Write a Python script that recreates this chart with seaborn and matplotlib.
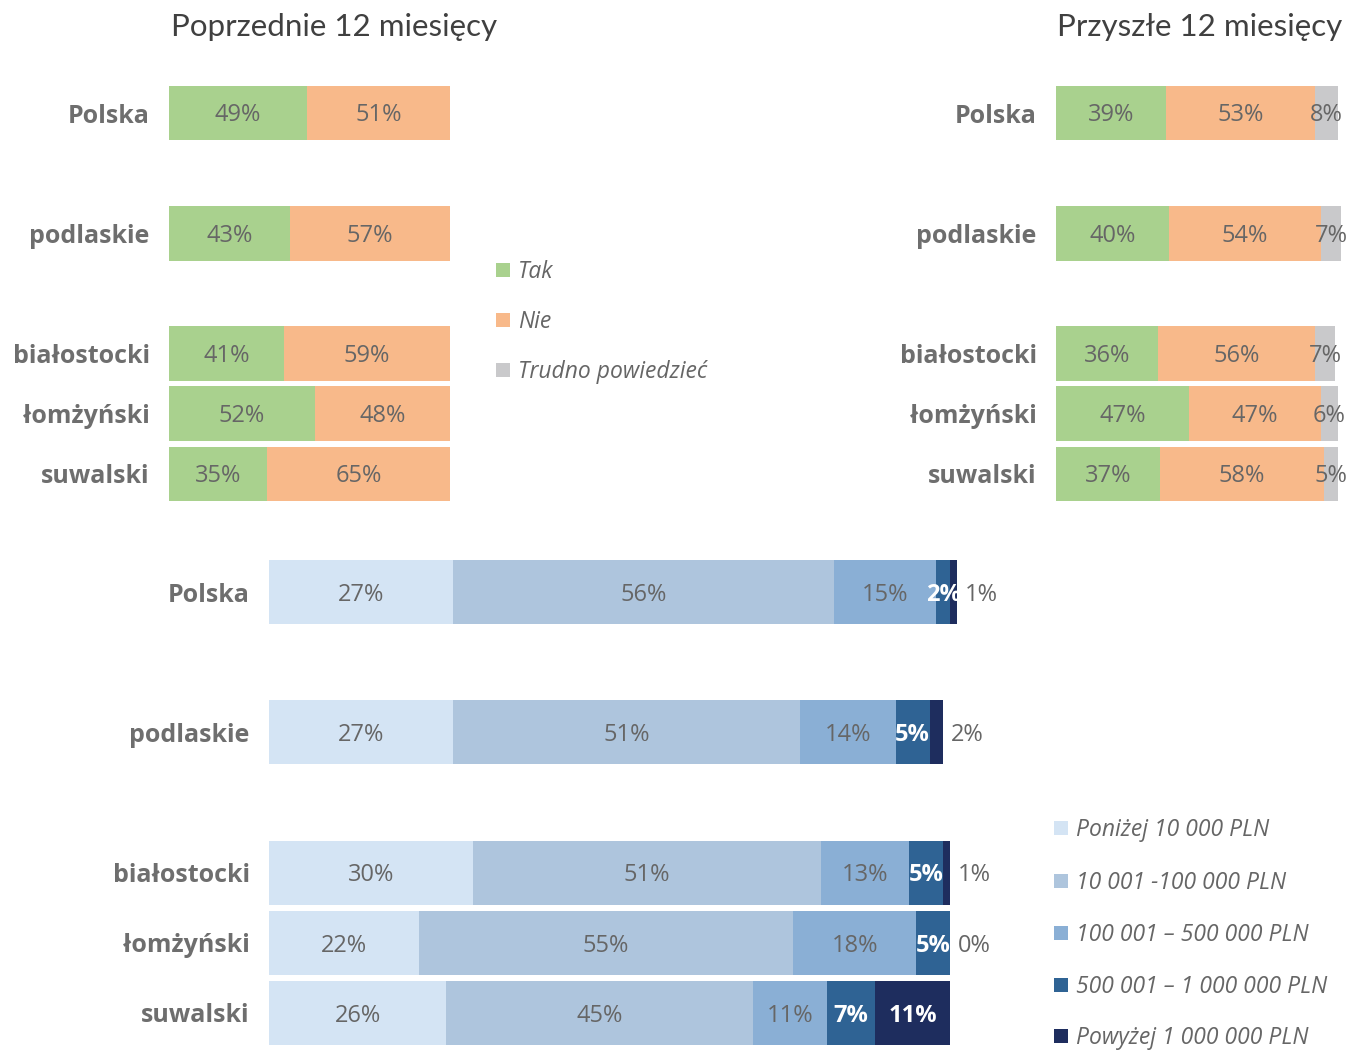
import matplotlib
matplotlib.use("Agg")
import matplotlib.pyplot as plt
from matplotlib.patches import Rectangle
import numpy as np
import pandas as pd
import seaborn as sns

# ---- data -------------------------------------------------------------
regions = ["Polska", "podlaskie", "białostocki", "łomżyński", "suwalski"]
row_pos = [0, 2, 4, 5, 6]

prev_labels = ["Tak", "Nie"]
prev_tak = [49, 43, 41, 52, 35]
prev_nie = [51, 57, 59, 48, 65]

next_labels = ["Tak", "Nie", "Trudno powiedzieć"]
next_tak = [39, 40, 36, 47, 37]
next_nie = [53, 54, 56, 47, 58]
next_trudno = [8, 7, 7, 6, 5]

value_labels = ["Poniżej 10 000 PLN", "10 001 -100 000 PLN",
                "100 001 – 500 000 PLN", "500 001 – 1 000 000 PLN",
                "Powyżej 1 000 000 PLN"]
val_below_10k = [27, 27, 30, 22, 26]
val_10k_100k = [56, 51, 51, 55, 45]
val_100k_500k = [15, 14, 13, 18, 11]
val_500k_1m = [2, 5, 5, 5, 7]
val_above_1m = [1, 2, 1, 0, 11]

# ---- style ------------------------------------------------------------
sns.set_theme(style="white")
plt.rcParams["font.family"] = ["Open Sans", "DejaVu Sans"]

GREEN, ORANGE, GREY = "#A9D18E", "#F8B98A", "#C9C9CB"
BLUES = ["#D4E4F4", "#AEC5DD", "#8AAFD5", "#2F6394", "#1E2D5E"]
TXT = "#666666"
CAT = "#6E6E6E"

W, H = 1347, 1051
fig = plt.figure(figsize=(W / 100, H / 100), dpi=100)
fig.patch.set_facecolor("white")


def px_axes(left, top, right, bottom):
    return fig.add_axes([left / W, 1 - bottom / H, (right - left) / W, (bottom - top) / H])


def stacked(ax, series, colors, width):
    arr = np.array(series, dtype=float)
    cum = np.cumsum(arr, axis=0)
    # draw cumulative totals from the longest down so each segment shows
    for i in range(len(series) - 1, -1, -1):
        df = pd.DataFrame({"pos": row_pos, "end": cum[i]})
        sns.barplot(data=df, x="end", y="pos", orient="y", native_scale=True,
                    color=colors[i], saturation=1, width=width, linewidth=0,
                    errorbar=None, ax=ax)
    for patch in ax.patches:
        patch.set_clip_on(False)
    ax.set_xlim(0, 100)
    ax.set_ylim(6.5, -0.5)
    ax.set_yticks(row_pos)
    ax.set_yticklabels(regions, fontsize=18, fontweight="bold", color=CAT)
    ax.tick_params(axis="y", length=0, pad=14)
    ax.set_xticks([])
    ax.set_xlabel("")
    ax.set_ylabel("")
    sns.despine(ax=ax, left=True, bottom=True)
    return arr, cum


def label_segments(ax, arr, cum, colors_txt, outside_last=False):
    for i in range(arr.shape[0]):
        for j, p in enumerate(row_pos):
            v = arr[i, j]
            start = cum[i, j] - v
            y = p + 0.04
            if outside_last and i == arr.shape[0] - 1 and v < 5:
                ax.text(cum[i, j] + 1.2, y, f"{int(v)}%", ha="left", va="center",
                        fontsize=17, color=TXT)
                continue
            ax.text(start + v / 2, y, f"{int(v)}%", ha="center", va="center",
                    fontsize=17, color=colors_txt[i],
                    fontweight="bold" if colors_txt[i] == "white" else "normal")


# ---- previous 12 months -------------------------------------------------
ax1 = px_axes(169, 83, 450, 504)
a, c = stacked(ax1, [prev_tak, prev_nie], [GREEN, ORANGE], 0.91)
label_segments(ax1, a, c, [TXT, TXT])

# ---- next 12 months ----------------------------------------------------
ax2 = px_axes(1056, 83, 1338, 504)
a, c = stacked(ax2, [next_tak, next_nie, next_trudno], [GREEN, ORANGE, GREY], 0.91)
label_segments(ax2, a, c, [TXT, TXT, TXT])

# ---- value brackets ----------------------------------------------------
ax3 = px_axes(269, 557, 950, 1048)
a, c = stacked(ax3, [val_below_10k, val_10k_100k, val_100k_500k, val_500k_1m, val_above_1m],
               BLUES, 0.91)
label_segments(ax3, a, c, [TXT, TXT, TXT, "white", "white"], outside_last=True)

# ---- titles ------------------------------------------------------------
fig.text(171 / W, 1 - 27 / H, "Poprzednie 12 miesięcy", ha="left", va="center",
         fontsize=22.5, family=["Lato", "DejaVu Sans"], fontweight="normal", color="#404040")
fig.text(1057 / W, 1 - 27 / H, "Przyszłe 12 miesięcy", ha="left", va="center",
         fontsize=22.5, family=["Lato", "DejaVu Sans"], fontweight="normal", color="#404040")


# ---- legends -----------------------------------------------------------
def legend_block(x_sq, x_txt, ys, labels, colors, size):
    for y, lab, col in zip(ys, labels, colors):
        fig.patches.append(Rectangle((x_sq / W, 1 - (y + 7) / H), 14 / W, 14 / H,
                                     transform=fig.transFigure, facecolor=col,
                                     edgecolor="none"))
        fig.text(x_txt / W, 1 - (y + 2) / H, lab, ha="left", va="center", fontsize=size,
                 style="italic", color=TXT)


legend_block(496, 518, [270, 320, 370], next_labels, [GREEN, ORANGE, GREY], 16.5)
legend_block(1054, 1076, [828, 881, 933, 985, 1036], value_labels, BLUES, 16.5)

fig.savefig("out.png", dpi=100, facecolor="white")
